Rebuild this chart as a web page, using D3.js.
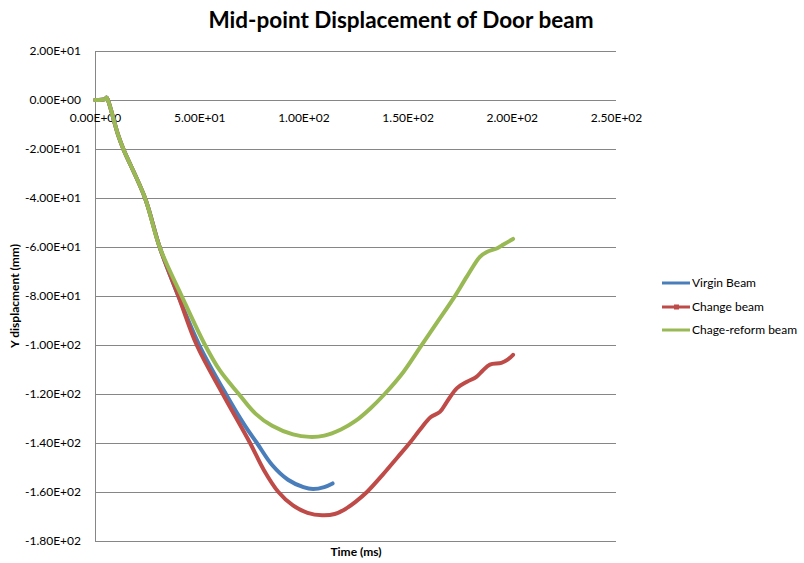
<!DOCTYPE html>
<html>
<head>
<meta charset="utf-8">
<script src="https://cdn.jsdelivr.net/npm/d3@7"></script>
<style>
  html, body { margin: 0; padding: 0; background: #fff; }
  svg { display: block; }
  text { font-family: Lato, "Liberation Sans", sans-serif; }
</style>
</head>
<body>
<svg id="chart" width="804" height="563"></svg>
<script>
// ---- data ----
const seriesNames = ["Virgin Beam", "Change beam", "Chage-reform beam"];
const seriesColors = ["#4a7ebb", "#be4b48", "#98b954"];

const virginTime = [0, 5, 5.5, 6.2, 11, 13.6, 24, 31, 40, 50, 62.8, 72, 77.7, 85, 92.6, 100, 104.6, 110, 114];
const virginDisp = [0, 0.4, 1, 0, -14, -20, -40, -60, -80, -100, -120, -133, -140, -149, -155, -158, -158.8, -158, -156.5];

const changeTime = [0, 5, 5.5, 6.2, 11, 13.6, 24, 31, 40, 48.8, 61.3, 74.4, 81, 88, 95, 102, 109, 115, 120, 125, 130.5, 138, 145, 151, 156, 161, 165.5, 169, 173.7, 178.5, 183, 186, 189.5, 195, 198, 200.6];
const changeDisp = [0, 0.4, 1, 0, -14, -20, -40, -60, -80, -100, -120, -140, -151, -160, -165.5, -168.5, -169.5, -169, -167, -164, -160, -153, -146, -140, -134.5, -129.5, -127.3, -123, -117.6, -115, -113, -110.5, -108, -107.3, -106, -104];

const reformTime = [0, 5, 5.5, 6.2, 11, 13.6, 24, 31, 41.6, 52.8, 60, 69, 77, 85, 95, 103, 110, 118, 125, 132, 139, 148, 156, 164, 172, 178.5, 184.7, 188, 193, 196, 200.6];
const reformDisp = [0, 0.4, 1, 0, -14, -20, -40, -60, -80, -100, -110.5, -120, -128, -133, -136.5, -137.5, -137, -134.5, -131, -126, -120, -111, -101, -91, -81, -72, -64, -62, -60.5, -59, -56.7];

const xTicks = [0, 50, 100, 150, 200, 250];
const xTickLabels = ["0.00E+00", "5.00E+01", "1.00E+02", "1.50E+02", "2.00E+02", "2.50E+02"];
const yTicks = [20, 0, -20, -40, -60, -80, -100, -120, -140, -160, -180];
const yTickLabels = ["2.00E+01", "0.00E+00", "-2.00E+01", "-4.00E+01", "-6.00E+01", "-8.00E+01", "-1.00E+02", "-1.20E+02", "-1.40E+02", "-1.60E+02", "-1.80E+02"];

const titleText = "Mid-point Displacement of Door beam";
const xTitle = "Time (ms)";
const yTitle = "Y displacment  (mm)";

// ---- layout ----
const svg = d3.select("#chart");
const plot = { left: 95, right: 616, top: 51, bottom: 541 };

const x = d3.scaleLinear().domain([0, 250]).range([plot.left, plot.right]);
const y = d3.scaleLinear().domain([20, -180]).range([plot.top, plot.bottom]);

const gridColor = "#868686";

// horizontal gridlines
const yAxis = d3.axisLeft(y).tickValues(yTicks).tickSize(-(plot.right - plot.left))
  .tickFormat((d, i) => yTickLabels[i]);
const gy = svg.append("g").attr("transform", `translate(${plot.left},0)`).call(yAxis);
gy.select(".domain").attr("stroke", gridColor);
gy.selectAll(".tick line").attr("stroke", gridColor).attr("stroke-width", 1);
gy.selectAll(".tick text").attr("x", -14).attr("font-size", 12).attr("fill", "#000")
  .style("font-family", "Lato, sans-serif");

// x axis labels along y=0 line
const xAxis = d3.axisBottom(x).tickValues(xTicks).tickSize(0)
  .tickFormat((d, i) => xTickLabels[i]);
const gx = svg.append("g").attr("transform", `translate(0,${y(0)})`).call(xAxis);
gx.select(".domain").remove();
gx.selectAll(".tick text").attr("dy", "0").attr("y", 22).attr("font-size", 12).attr("fill", "#000")
  .style("font-family", "Lato, sans-serif");

// series
const line = d3.line().x(d => x(d[0])).y(d => y(d[1])).curve(d3.curveCatmullRom.alpha(0.5));
const allSeries = [
  virginTime.map((t, i) => [t, virginDisp[i]]),
  changeTime.map((t, i) => [t, changeDisp[i]]),
  reformTime.map((t, i) => [t, reformDisp[i]])
];
allSeries.forEach((data, i) => {
  svg.append("path").datum(data)
    .attr("fill", "none")
    .attr("stroke", seriesColors[i])
    .attr("stroke-width", 4)
    .attr("stroke-linejoin", "round")
    .attr("stroke-linecap", "round")
    .attr("d", line);
});

// title
svg.append("text").attr("x", 401).attr("y", 28).attr("text-anchor", "middle")
  .attr("font-size", 22.5).attr("font-weight", "bold").text(titleText);

// axis titles
svg.append("text").attr("x", 356).attr("y", 556).attr("text-anchor", "middle")
  .attr("font-size", 12).attr("font-weight", "bold").text(xTitle);
svg.append("text").attr("transform", "translate(19,296) rotate(-90)").attr("text-anchor", "middle")
  .attr("font-size", 12).attr("font-weight", "bold").text(yTitle);

// legend
const legendY = [283, 307, 330];
seriesNames.forEach((name, i) => {
  const g = svg.append("g");
  g.append("line").attr("x1", 662).attr("x2", 690).attr("y1", legendY[i]).attr("y2", legendY[i])
    .attr("stroke", seriesColors[i]).attr("stroke-width", 3);
  if (i === 1) {
    g.append("rect").attr("x", 674).attr("y", legendY[i] - 2.5).attr("width", 5).attr("height", 5)
      .attr("fill", seriesColors[i]);
  }
  g.append("text").attr("x", 692).attr("y", legendY[i] + 4).attr("font-size", 12).text(name);
});
</script>
</body>
</html>
